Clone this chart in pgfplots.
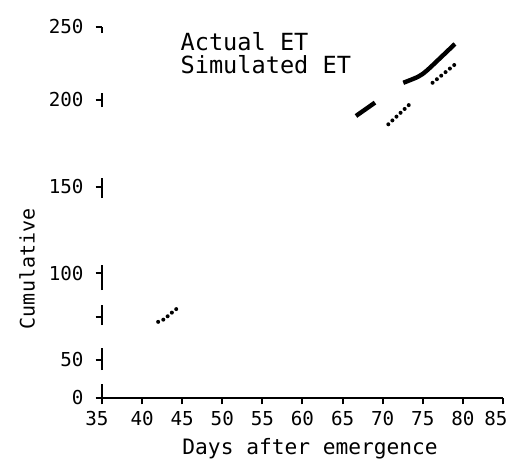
\documentclass[border=0pt]{standalone}
\usepackage{fontspec}
\setmainfont{DejaVu Sans Mono}
\usepackage{pgfplots}
\pgfplotsset{compat=1.18}

\begin{document}
\begin{tikzpicture}
\useasboundingbox (-51pt,-32pt) rectangle (204pt,199pt);
\begin{axis}[
  scale only axis,
  width=200.5pt, height=185.5pt,
  xmin=35, xmax=85, ymin=0, ymax=250,
  % the printed y scale is uneven: 0-50 is squeezed, 200-250 a bit too
  y coord trafo/.code={\pgfmathparse{0.76*min(#1,50)+1.733*max(min(#1,200)-50,0)+1.46*max(#1-200,0)}},
  y coord inv trafo/.code={\pgfmathparse{ifthenelse(#1<38,#1/0.76,ifthenelse(#1<298,50+(#1-38)/1.733,200+(#1-298)/1.46))}},
  axis x line*=bottom,
  axis y line*=left,
  x axis line style={line width=1.4pt},
  y axis line style={line width=1.2pt,
    dash pattern=on 7pt off 7pt on 11pt off 11.5pt on 10pt off 7.5pt on 12.5pt off 33.5pt on 10pt off 35.5pt on 7pt off 30pt on 3pt off 10pt},
  xtick={35,40,...,85},
  xticklabels={\hspace*{-5pt}35,40,45,50,55,60,65,70,75,80,\hspace*{-7pt}85},
  ytick={0,50,75,100,150,200,250},
  yticklabels={0,50,,100,150,200,250},
  yticklabel style={xshift=-2.5pt},
  tick align=outside,
  major tick length=3.2pt,
  tick style={line width=1pt, black},
  tick label style={font=\fontsize{9.6}{10}\selectfont},
  /pgf/number format/assume math mode=true,
  xlabel={Days after emergence},
  xlabel style={at={(axis description cs:0.519,0)}, anchor=center, yshift=-25.5pt,
    font=\fontsize{10.6}{11}\selectfont},
  ylabel={Cumulative},
  ylabel style={at={(axis description cs:-0.187,0.348)}, anchor=center,
    font=\fontsize{10}{11}\selectfont},
  legend cell align=left,
  legend image code/.code={},
  legend style={draw=none, fill=none, at={(axis description cs:0.195,0.987)},
    anchor=north west, inner sep=0pt, row sep=0pt,
    nodes={inner sep=0pt, text height=9pt, text depth=2.5pt},
    font=\fontsize{11.8}{12}\selectfont},
]
% actual ET (solid)
\addplot[black, line width=2.2pt] coordinates {
  (66.67,190.8) (69.04,198.5)
};
\addlegendentry{Actual ET}
% simulated ET (dotted)
\addplot[black, line width=2pt, line cap=round, dash pattern=on 0pt off 2.8pt] coordinates {
  (42.0,72.0) (42.86,73.7) (43.35,76.0) (43.98,78.3) (44.73,81.2)
};
\addlegendentry{Simulated ET}
\addplot[black, line width=2.2pt, smooth, forget plot] coordinates {
  (72.57,211.8) (74.44,216.0) (75.49,220.1) (77.14,228.6) (79.01,238.4)
};
\addplot[black, line width=2pt, line cap=round, dash pattern=on 0pt off 2.8pt, forget plot] coordinates {
  (70.70,186.0) (73.40,197.7)
};
\addplot[black, line width=2pt, line cap=round, dash pattern=on 0pt off 2.8pt, forget plot] coordinates {
  (76.22,211.8) (79.13,224.9)
};
\end{axis}
\end{tikzpicture}
\end{document}
